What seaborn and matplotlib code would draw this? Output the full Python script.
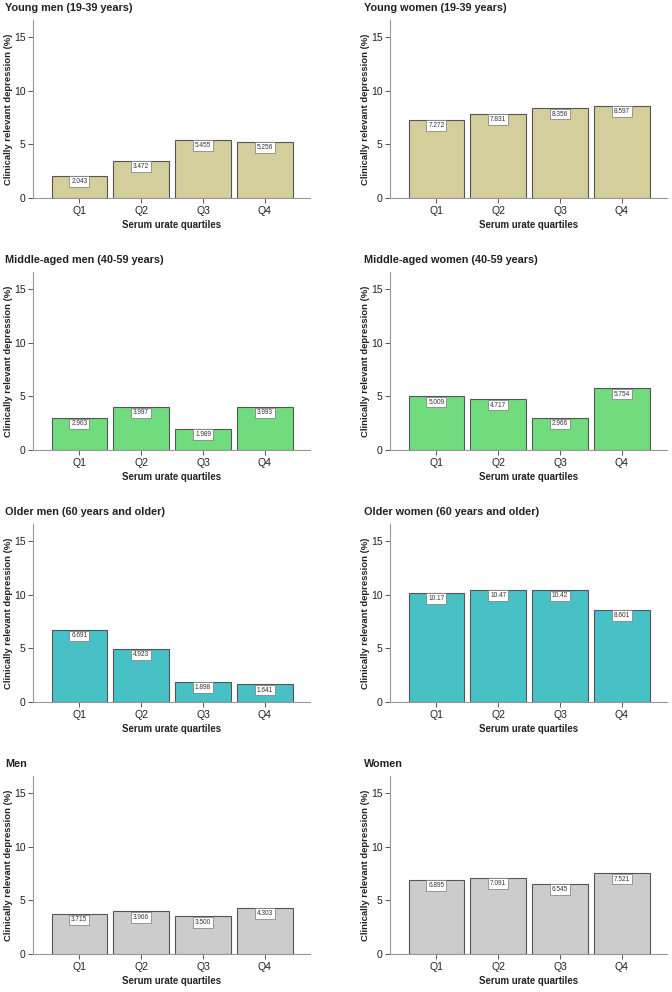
import numpy as np
import matplotlib
matplotlib.use("Agg")
import matplotlib.pyplot as plt
import pandas as pd
import seaborn as sns

sns.set_style("white")
plt.rcParams['font.family'] = ['Liberation Sans', 'DejaVu Sans']

quartiles = ["Q1", "Q2", "Q3", "Q4"]

titles = [
    "Young men (19-39 years)", "Young women (19-39 years)",
    "Middle-aged men (40-59 years)", "Middle-aged women (40-59 years)",
    "Older men (60 years and older)", "Older women (60 years and older)",
    "Men", "Women",
]
young_men = [2.043, 3.472, 5.455, 5.256]
young_women = [7.272, 7.831, 8.356, 8.597]
middle_men = [2.963, 3.997, 1.989, 3.993]
middle_women = [5.009, 4.717, 2.966, 5.754]
older_men = [6.691, 4.923, 1.898, 1.641]
older_women = [10.17, 10.47, 10.42, 8.601]
all_men = [3.715, 3.966, 3.500, 4.303]
all_women = [6.895, 7.091, 6.545, 7.521]

series = [young_men, young_women, middle_men, middle_women,
          older_men, older_women, all_men, all_women]
row_colors = ["#D4CE9C", "#70DC7E", "#47C1C6", "#CCCCCC"]

W, H = 672, 992
fig = plt.figure(figsize=(W / 100, H / 100), dpi=100)

col_x0 = [33, 390]
title_x = [5, 364]
ax_w = 277

for i, (title, vals) in enumerate(zip(titles, series)):
    row, col = divmod(i, 2)
    top = 20 + 252 * row
    bottom = 198 + 252 * row
    ax = fig.add_axes([col_x0[col] / W, 1 - bottom / H, ax_w / W, (bottom - top) / H])
    df = pd.DataFrame({"quartile": quartiles, "pct": vals})
    sns.barplot(data=df, x="quartile", y="pct", color=row_colors[row],
                width=0.9, edgecolor="#555555", linewidth=0.8,
                saturation=1, ax=ax)
    ax.set_xlim(-0.75, 3.73)
    ax.set_ylim(0, 16.6)
    ax.set_yticks([0, 5, 10, 15])
    for side in ["top", "right"]:
        ax.spines[side].set_visible(False)
    for side in ["left", "bottom"]:
        ax.spines[side].set_color("#999999")
        ax.spines[side].set_linewidth(0.8)
    ax.tick_params(axis="both", which="major", direction="out", length=3.5,
                   width=0.7, color="#555555", labelsize=7.5, pad=2,
                   bottom=True, left=True, labelcolor="#222222")
    ax.set_ylabel("Clinically relevant depression (%)", fontsize=6.8,
                  fontweight="bold", color="#222222")
    ax.yaxis.set_label_coords(-0.072, 0.5)
    ax.set_xlabel("Serum urate quartiles", fontsize=6.9,
                  fontweight="bold", color="#222222")
    ax.xaxis.set_label_coords(0.5, -0.125)
    for j, v in enumerate(vals):
        lab = np.format_float_positional(v, precision=4, unique=False,
                                         fractional=False, trim='k')
        ax.annotate(lab, xy=(j, v), xytext=(0, -1.6), textcoords="offset points",
                    ha="center", va="top", fontsize=4.7, color="#333333",
                    bbox=dict(boxstyle="square,pad=0.28", fc="white",
                              ec="#777777", lw=0.5))
    fig.text(title_x[col] / W, 1 - (8 + 252 * row) / H, title, fontsize=7.8,
             fontweight="bold", ha="left", va="center", color="#222222")

fig.savefig("out.png", dpi=100)
